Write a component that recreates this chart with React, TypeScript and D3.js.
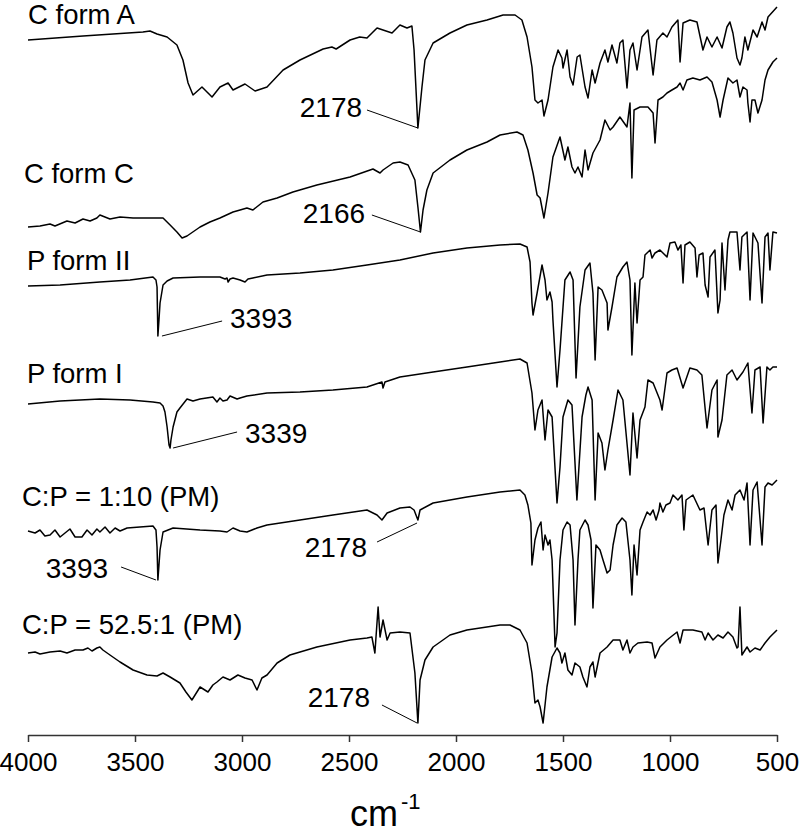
import React, { useEffect, useRef } from "react";
import * as d3 from "d3";

type P = [number, number];

// x axis ticks (wavenumber, cm-1)
const xTicks = [4000, 3500, 3000, 2500, 2000, 1500, 1000, 500];

// Series names
const seriesNames = [
  "C form A",
  "C form C",
  "P form II",
  "P form I",
  "C:P = 1:10 (PM)",
  "C:P = 52.5:1 (PM)",
];

// Offset transmittance (a.u.) vs wavenumber
const formA: P[] = [[4000,700],[3743,704],[3463,708],[3430,709],[3397,706],[3350,703],[3304,695],[3276,680],[3252,657],[3229,645],[3187,653],[3140,643],[3103,653],[3065,657],[3042,650],[2986,656],[2939,649],[2883,653],[2808,670],[2729,680],[2621,691],[2580,693],[2560,691],[2495,700],[2450,703],[2416,702],[2369,712],[2299,707],[2262,715],[2229,712],[2206,714],[2196,690],[2178,612],[2159,653],[2145,680],[2107,697],[2028,707],[1949,715],[1855,720],[1780,725],[1724,725],[1692,720],[1668,703],[1645,673],[1631,640],[1617,637],[1598,640],[1589,624],[1570,640],[1547,673],[1523,690],[1505,682],[1500,672],[1481,690],[1467,663],[1453,655],[1434,683],[1421,685],[1397,653],[1383,642],[1364,670],[1350,657],[1327,677],[1304,690],[1290,678],[1271,695],[1248,677],[1234,697],[1220,700],[1201,652],[1187,690],[1173,697],[1154,670],[1131,703],[1103,710],[1079,665],[1061,700],[1033,707],[1014,703],[991,713],[963,720],[953,678],[939,717],[907,720],[874,718],[846,690],[827,703],[804,693],[780,703],[757,692],[734,713],[720,718],[706,707],[687,682],[673,675],[664,682],[650,703],[636,690],[612,710],[593,703],[570,718],[556,710],[542,723],[500,733]];

const formC: P[] = [[4000,513],[3944,514],[3897,516],[3874,514],[3818,519],[3780,517],[3743,521],[3710,519],[3678,522],[3664,525],[3617,521],[3570,523],[3509,522],[3416,522],[3369,522],[3336,515],[3304,508],[3280,502],[3257,504],[3196,513],[3150,518],[3103,522],[3042,528],[3009,530],[2977,532],[2949,530],[2902,538],[2836,542],[2762,548],[2650,555],[2495,563],[2388,571],[2355,567],[2341,570],[2294,577],[2262,578],[2224,575],[2192,560],[2178,533],[2166,508],[2154,530],[2136,550],[2107,567],[2028,580],[1949,590],[1855,598],[1794,605],[1715,608],[1687,605],[1664,590],[1640,567],[1621,545],[1607,542],[1589,522],[1570,547],[1547,583],[1514,603],[1491,580],[1477,593],[1458,573],[1444,567],[1430,573],[1411,563],[1397,590],[1383,570],[1360,587],[1327,600],[1304,620],[1280,610],[1266,613],[1234,623],[1201,613],[1187,637],[1178,562],[1168,630],[1140,633],[1103,633],[1079,627],[1070,597],[1056,640],[1033,643],[1014,647],[991,650],[967,653],[953,657],[939,650],[921,660],[893,662],[860,660],[827,663],[804,658],[780,640],[766,623],[752,640],[729,662],[706,657],[687,660],[673,643],[659,653],[640,650],[636,637],[626,618],[617,640],[603,640],[589,627],[570,640],[556,660],[542,670],[519,678],[500,682]];

const formII: P[] = [[4000,454],[3850,455],[3664,458],[3523,460],[3416,463],[3402,460],[3397,453],[3393,404],[3388,420],[3383,437],[3369,455],[3350,459],[3322,462],[3196,463],[3103,463],[3079,461],[3070,462],[3065,458],[3056,461],[3042,462],[3009,460],[2986,458],[2972,461],[2949,462],[2883,465],[2729,467],[2575,470],[2416,475],[2262,480],[2107,487],[1949,492],[1794,495],[1701,496],[1668,493],[1654,478],[1645,437],[1640,425],[1621,447],[1598,475],[1584,460],[1575,440],[1561,448],[1551,438],[1547,420],[1528,353],[1514,390],[1491,460],[1467,468],[1453,460],[1439,362],[1421,433],[1397,470],[1374,477],[1360,447],[1350,380],[1336,453],[1318,450],[1294,437],[1290,410],[1271,433],[1248,463],[1220,473],[1201,478],[1187,460],[1178,385],[1164,457],[1154,417],[1140,460],[1126,463],[1117,485],[1093,490],[1084,482],[1070,487],[1047,490],[1014,483],[1000,497],[977,498],[963,490],[949,495],[939,457],[930,495],[907,498],[883,492],[874,463],[864,485],[846,487],[836,455],[822,443],[813,483],[790,490],[776,427],[766,440],[757,497],[743,450],[729,500],[720,508],[687,508],[673,470],[664,503],[640,508],[626,440],[612,507],[589,497],[570,437],[556,503],[542,507],[533,470],[519,508],[500,507]];

const formI: P[] = [[4000,336],[3850,339],[3664,341],[3523,340],[3416,338],[3383,337],[3369,334],[3360,328],[3350,313],[3341,295],[3336,292],[3332,300],[3322,313],[3304,328],[3290,332],[3257,341],[3229,339],[3196,341],[3136,343],[3117,338],[3103,342],[3089,339],[3070,340],[3056,344],[3023,341],[3009,342],[2977,344],[2883,347],[2729,348],[2575,350],[2416,353],[2346,358],[2341,352],[2332,358],[2262,363],[2107,368],[1949,373],[1794,378],[1701,381],[1668,377],[1645,347],[1631,310],[1617,330],[1598,340],[1584,300],[1570,330],[1551,323],[1528,237],[1514,273],[1500,323],[1477,340],[1458,335],[1435,240],[1411,323],[1393,345],[1383,353],[1364,340],[1350,240],[1336,307],[1318,297],[1304,270],[1290,290],[1266,320],[1243,350],[1220,340],[1187,265],[1173,327],[1154,282],[1140,320],[1117,333],[1103,360],[1079,357],[1047,340],[1037,330],[1014,367],[991,370],[967,372],[939,352],[907,372],[874,370],[851,365],[827,312],[804,350],[780,360],[776,303],[757,320],[734,365],[710,370],[687,360],[659,368],[636,377],[617,327],[603,370],[579,373],[565,317],[547,373],[533,370],[519,373],[500,373]];

const pm110: P[] = [[4000,209],[3967,207],[3944,210],[3921,204],[3897,205],[3874,210],[3850,203],[3827,207],[3804,211],[3780,203],[3748,203],[3724,210],[3701,205],[3678,211],[3664,208],[3640,213],[3617,207],[3593,212],[3570,209],[3537,212],[3477,213],[3416,214],[3402,210],[3397,193],[3393,160],[3388,175],[3383,190],[3369,208],[3322,212],[3196,210],[3103,209],[3070,208],[3042,212],[3009,209],[2977,208],[2930,212],[2883,215],[2729,220],[2575,225],[2416,230],[2369,225],[2346,220],[2322,227],[2262,232],[2215,233],[2196,230],[2178,220],[2168,230],[2107,237],[1949,243],[1794,248],[1701,250],[1678,245],[1664,235],[1650,217],[1645,175],[1631,200],[1617,212],[1603,218],[1593,190],[1584,205],[1570,195],[1561,200],[1551,180],[1537,93],[1528,107],[1514,180],[1500,210],[1481,218],[1467,215],[1453,180],[1444,115],[1430,180],[1421,210],[1397,220],[1383,215],[1369,200],[1360,132],[1346,195],[1327,190],[1313,180],[1294,167],[1280,170],[1266,195],[1248,215],[1224,222],[1206,218],[1187,180],[1178,145],[1168,195],[1154,165],[1140,210],[1126,218],[1107,228],[1093,225],[1079,230],[1065,220],[1051,230],[1047,237],[1033,228],[1019,235],[1000,237],[986,245],[963,240],[944,245],[935,210],[925,240],[893,245],[860,230],[841,232],[822,195],[804,230],[785,235],[776,177],[762,200],[748,225],[729,240],[710,230],[696,245],[673,250],[654,240],[640,257],[626,195],[612,250],[593,258],[570,195],[556,253],[542,257],[523,255],[500,260]];

const pm525: P[] = [[4000,87],[3967,88],[3944,86],[3897,88],[3850,89],[3818,87],[3780,90],[3743,90],[3720,92],[3701,89],[3678,92],[3664,93],[3650,90],[3617,85],[3570,78],[3509,70],[3444,65],[3397,64],[3369,67],[3336,63],[3290,57],[3262,48],[3234,40],[3196,53],[3159,48],[3136,55],[3117,58],[3089,63],[3056,60],[3019,65],[2986,62],[2953,60],[2930,50],[2907,62],[2883,65],[2836,77],[2776,85],[2650,93],[2495,100],[2416,102],[2393,103],[2379,87],[2364,133],[2355,103],[2341,120],[2322,100],[2308,107],[2262,108],[2215,107],[2192,67],[2178,17],[2168,60],[2145,80],[2107,93],[2028,105],[1949,110],[1794,115],[1748,115],[1701,110],[1668,97],[1645,67],[1631,37],[1617,40],[1607,33],[1593,17],[1575,53],[1551,83],[1528,92],[1514,87],[1505,77],[1491,87],[1477,70],[1458,65],[1444,77],[1421,73],[1407,63],[1388,53],[1374,73],[1360,78],[1350,63],[1327,87],[1294,93],[1266,100],[1234,100],[1220,90],[1201,100],[1187,87],[1173,93],[1150,97],[1107,98],[1084,97],[1070,82],[1047,93],[1014,100],[967,108],[953,97],[939,110],[893,110],[851,108],[836,100],[822,107],[799,100],[776,105],[752,102],[729,108],[706,103],[687,92],[682,93],[673,133],[664,85],[640,93],[626,88],[603,92],[579,90],[556,97],[533,103],[500,110]];

const seriesData: P[][] = [formA, formC, formII, formI, pm110, pm525];

// Series label anchors (wavenumber, value)
const labelAnchors: P[] = [[4000,716],[4019,557],[4005,470],[4005,357],[4028,234],[4028,106]];

// Peak annotations
const annText = ["2178", "2166", "3393", "3339", "2178", "3393", "2178"];
const annTextPos: P[] = [[2439,623],[2425,517],[3056,412],[2986,297],[2416,183],[3626,162],[2402,33]];
const annAnchor = ["end", "end", "start", "start", "end", "end", "end"];
const annLineFrom: P[] = [[2416,630],[2393,525],[3093,419],[3023,308],[2369,198],[3565,173],[2346,35]];
const annLineTo: P[] = [[2178,612],[2166,508],[3374,404],[3322,292],[2182,217],[3402,160],[2182,17]];

const FONT = "'Liberation Sans', Arial, Helvetica, sans-serif";

export default function App() {
  const ref = useRef<SVGSVGElement | null>(null);

  useEffect(() => {
    const svg = d3.select(ref.current!);
    svg.selectAll("*").remove();

    const x = d3.scaleLinear().domain([4000, 500]).range([28, 777]);
    const y = d3.scaleLinear().domain([0, 740]).range([740, 0]);

    const line = d3
      .line<P>()
      .x((d) => x(d[0]))
      .y((d) => y(d[1]));

    svg
      .append("g")
      .selectAll("path")
      .data(seriesData)
      .join("path")
      .attr("d", (d) => line(d))
      .attr("fill", "none")
      .attr("stroke", "#000")
      .attr("stroke-width", 1.5)
      .attr("stroke-linejoin", "round");

    svg
      .append("g")
      .selectAll("text")
      .data(seriesNames)
      .join("text")
      .attr("x", (_, i) => x(labelAnchors[i][0]))
      .attr("y", (_, i) => y(labelAnchors[i][1]))
      .attr("font-family", FONT)
      .attr("font-size", 27.5)
      .attr("fill", "#000")
      .text((d) => d);

    const ann = svg.append("g");
    annText.forEach((t, i) => {
      ann
        .append("line")
        .attr("x1", x(annLineFrom[i][0]))
        .attr("y1", y(annLineFrom[i][1]))
        .attr("x2", x(annLineTo[i][0]))
        .attr("y2", y(annLineTo[i][1]))
        .attr("stroke", "#000")
        .attr("stroke-width", 1);
      ann
        .append("text")
        .attr("x", x(annTextPos[i][0]))
        .attr("y", y(annTextPos[i][1]))
        .attr("text-anchor", annAnchor[i])
        .attr("font-family", FONT)
        .attr("font-size", 28)
        .attr("fill", "#000")
        .text(t);
    });

    const axis = d3
      .axisBottom(x)
      .tickValues(xTicks)
      .tickFormat((d) => String(d))
      .tickSize(7)
      .tickSizeOuter(0)
      .tickPadding(11);

    const g = svg
      .append("g")
      .attr("transform", `translate(0,${y(5)})`)
      .call(axis);
    g.select(".domain").attr("stroke", "#333").attr("stroke-width", 1.5);
    g.selectAll(".tick line").attr("stroke", "#333").attr("stroke-width", 1.5);
    g.selectAll(".tick text")
      .attr("font-family", FONT)
      .attr("font-size", 26)
      .attr("fill", "#000");

    const title = svg
      .append("text")
      .attr("x", 350)
      .attr("y", 826)
      .attr("font-family", FONT)
      .attr("fill", "#000");
    title.append("tspan").attr("font-size", 36).text("cm");
    title
      .append("tspan")
      .attr("font-size", 22)
      .attr("dy", -17)
      .attr("dx", 3)
      .text("-1");
  }, []);

  return (
    <svg
      ref={ref}
      width={799}
      height={834}
      style={{ position: "absolute", left: 0, top: 0, background: "#fff" }}
    />
  );
}
